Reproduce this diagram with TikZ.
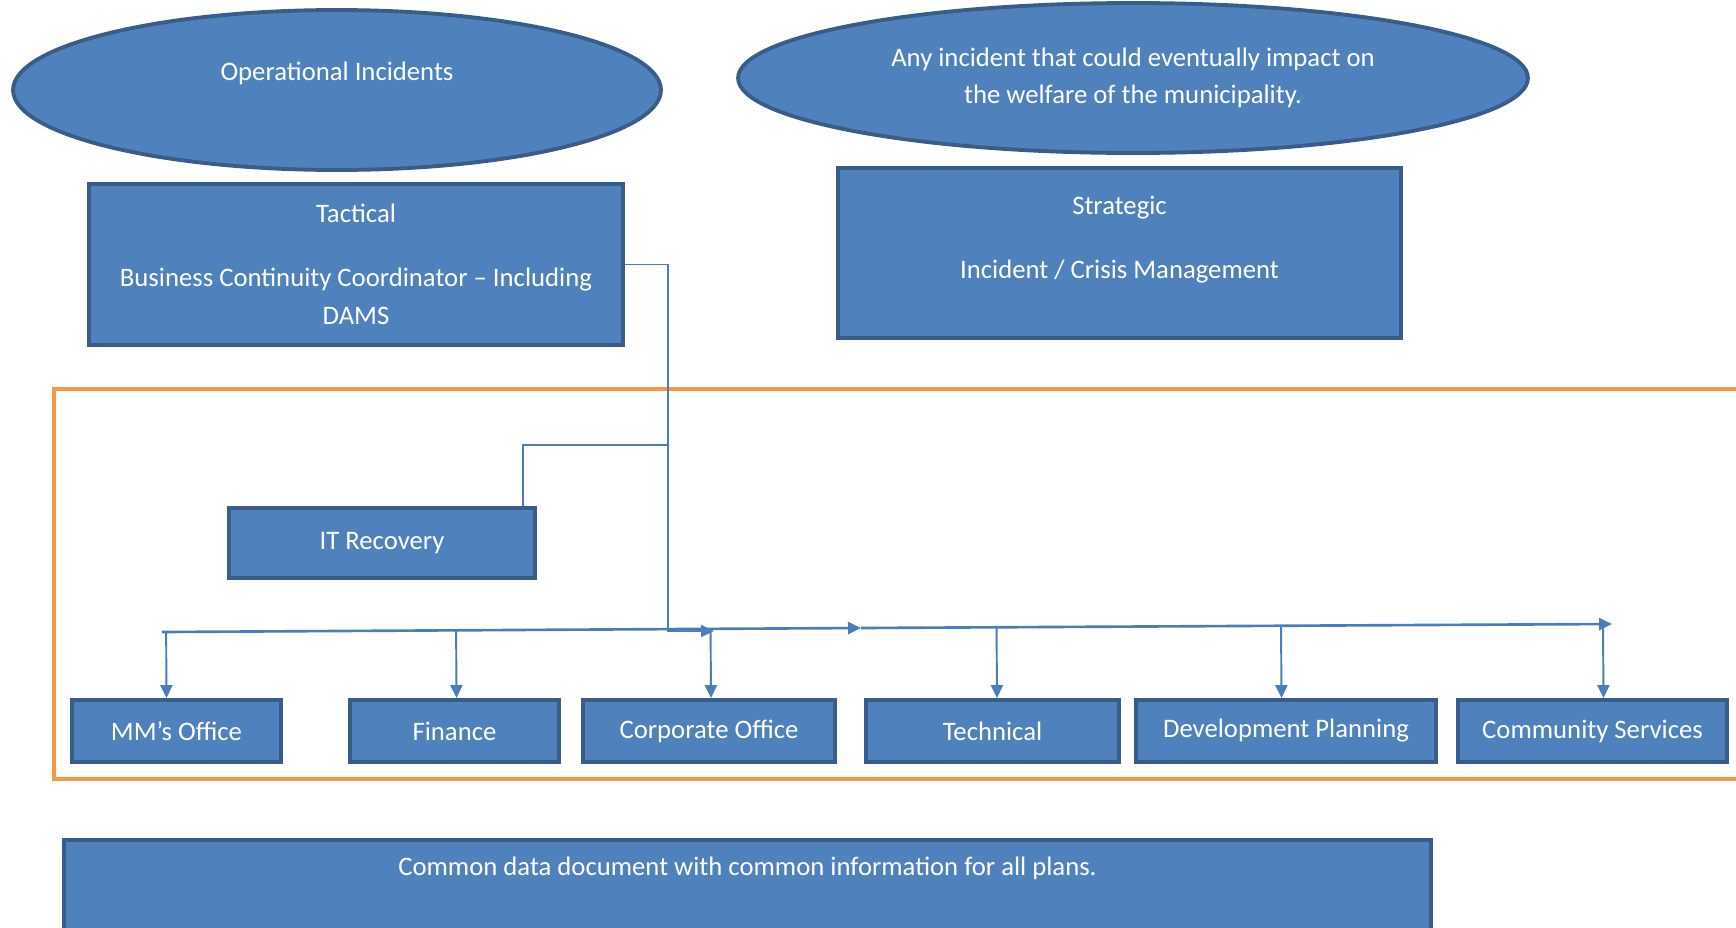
\documentclass[tikz,border=0pt]{standalone}
\usepackage{fontspec}
\setmainfont{Carlito}
\usepackage{tikz}
\usetikzlibrary{positioning, arrows.meta, shapes.geometric, calc}
\definecolor{fillblue}{HTML}{4F81BD}
\definecolor{edgeblue}{HTML}{385D8A}
\definecolor{lineblue}{HTML}{4A7EBB}
\definecolor{frameorange}{HTML}{F79646}
\tikzset{
  >={Triangle[length=2.6mm, width=2.4mm]},
  box/.style={draw=edgeblue, line width=2.2pt, fill=fillblue, text=white, align=center, inner sep=0pt, font=\fontsize{15.2}{21.4}\selectfont},
  oval/.style={box, ellipse},
  unit/.style={box, minimum height=1.24cm},
  conn/.style={draw=lineblue, line width=1.1pt},
  bus/.style={conn, line width=1.5pt},
  frame/.style={draw=frameorange, line width=2.4pt},
}

\begin{document}
\begin{tikzpicture}[x=0.02cm, y=-0.02cm]
      \useasboundingbox (0,0) rectangle (1736,927);
      \node[oval, minimum width=12.96cm, minimum height=3.2cm] (opinc) at (337,90) {Operational Incidents\\\mbox{}};
      \node[oval, minimum width=15.8cm, minimum height=3cm] (anyinc) at (1133,78) {Any incident that could eventually impact on\\the welfare of the municipality.};
      \node[box, minimum width=10.68cm, minimum height=3.22cm] (tactical) at (356,264.5) {Tactical\\[15pt]Business Continuity Coordinator -- Including\\DAMS};
      \node[box, minimum width=11.26cm, minimum height=3.4cm] (strategic) at (1119.5,253) {Strategic\\[15pt]Incident / Crisis Management\\[-3.4pt]\mbox{}};

      \draw[frame] (54,389) rectangle (1760,779);

      \node[box, minimum width=6.12cm, minimum height=1.4cm] (itrec) at (382,543) {IT Recovery};
      \node[unit, minimum width=4.18cm] (mmoffice) at (176.5,731) {MM’s Office};
      \node[unit, minimum width=4.18cm] (finance) at (454.5,731) {Finance};
      \node[unit, minimum width=5.04cm] (corporate) at (709,731) {Corporate Office};
      \node[unit, minimum width=5.06cm] (technical) at (992.5,731) {Technical};
      \node[unit, minimum width=6cm] (devplan) at (1286,731) {Development Planning};
      \node[unit, minimum width=5.38cm] (community) at (1592.5,731) {Community Services};
      \node[box, anchor=north, minimum width=27.34cm, text height=9pt, text depth=3cm, inner ysep=0.4cm] (common) at (747.5,838) {Common data document with common information for all plans.};

      \coordinate (bend) at (668,445);
      \coordinate (tipA) at (714,631);
      \coordinate (busL) at (162,632);
      \coordinate (busM) at (861,628);
      \coordinate (busR) at (1612,624);

      \draw[conn, ->] (tactical.east) -| (bend) -- (bend |- tipA) -- (tipA);
      \draw[conn] (bend) -| ([xshift=-0.28cm]itrec.north east);
      \draw[bus, ->] (busL) -- (busM);
      \draw[bus, ->] (busM) -- (busR);
      \foreach \n/\dx in {mmoffice/-0.2, finance/0.04, corporate/0.04, technical/0.09, devplan/-0.09, community/0.22}
        \draw[conn, ->] ($(busL)!([xshift=\dx cm]\n.north)!(busR)$) -- ([xshift=\dx cm]\n.north);
    \end{tikzpicture}
\end{document}
